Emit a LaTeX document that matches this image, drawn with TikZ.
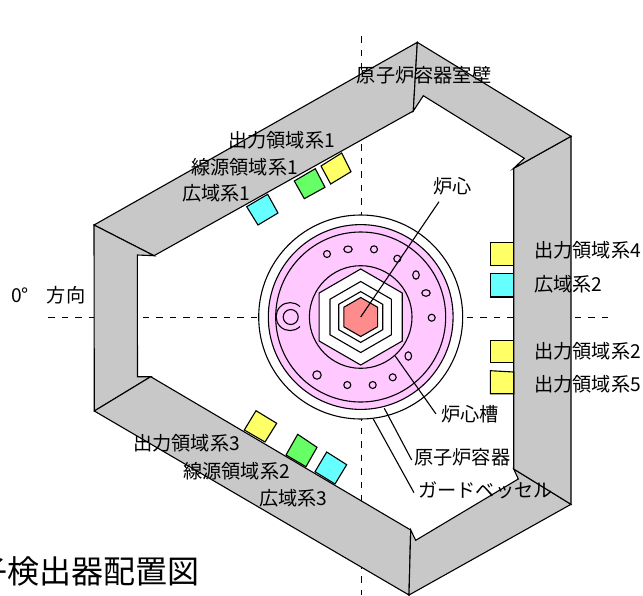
\documentclass[tikz,border=0pt]{standalone}
\usepackage{fontspec}
\setmainfont{Noto Sans CJK JP}
\tikzset{
  wall/.style={draw=black,fill=wallgray,line width=1.1pt,line join=miter},
  det/.style={draw=black,line width=1.1pt},
  ln/.style={draw=black,line width=1.1pt},
  cl/.style={draw=black,line width=0.9pt,dash pattern=on 6.5pt off 7pt},
  lab/.style={anchor=west,inner sep=0pt,font=\fontsize{19.2}{21}\selectfont,text=black},
  hole/.style={draw=black,line width=1.1pt,fill=vpink},
}
\definecolor{wallgray}{HTML}{C8C8C8}
\definecolor{vpink}{HTML}{FFC8FF}
\definecolor{vred}{HTML}{FF8C8C}
\definecolor{dyel}{HTML}{FFFF66}
\definecolor{dcy}{HTML}{66FFFF}
\definecolor{dgr}{HTML}{66FF66}
\begin{document}
\begin{tikzpicture}[x=1pt,y=-1pt]
\useasboundingbox (0,0) rectangle (643,595);
\coordinate (cc) at (360.7,317);
% centre lines
\coordinate (vt) at (361,36);
\coordinate (vb) at (361,595);
\coordinate (hl) at (48,317);
\coordinate (hr) at (609,317);
\draw[cl] (vt) -- (vb);
\draw[cl] (hl) -- (hr);
% walls
\coordinate (ot) at (417.3,42.3);
\coordinate (ou) at (571,136.3);
\coordinate (or) at (571,504.3);
\coordinate (ob) at (409,595);
\coordinate (ol) at (94.3,411);
\coordinate (oa) at (94,225);
\draw[wall] (oa) -- (ot) -- (413.3,111) -- (154,255.7) -- cycle;
\draw[wall] (oa) -- (154,255.7) -- (137.3,255) -- (137.5,376.7) -- (150.7,376.7) -- (ol) -- cycle;
\draw[wall] (ol) -- (150.7,376.7) -- (410.7,530) -- (ob) -- cycle;
\draw[wall] (ob) -- (410.7,530) -- (415.7,540.3) -- (518.3,479) -- (513.7,469) -- (or) -- cycle;
\draw[wall] (or) -- (513.7,469) -- (513.7,168.3) -- (ou) -- cycle;
\draw[wall] (ou) -- (513.7,168.3) -- (524.3,158.3) -- (423.3,95.7) -- (413.3,111) -- (ot) -- cycle;
% detectors
\draw[det,fill=dcy] (246.7,206.7) -- (267.7,194.3) -- (278,213) -- (258,225) -- cycle;
\draw[det,fill=dgr] (294.3,181) -- (315.3,168.7) -- (325,187.3) -- (304.3,198.7) -- cycle;
\draw[det,fill=dyel] (321,166) -- (341.7,153) -- (351,171.7) -- (330.7,184) -- cycle;
\draw[det,fill=dyel] (490.3,242.3) rectangle (513.7,265.7);
\draw[det,fill=dcy] (490.3,273.3) rectangle (513.7,297);
\draw[det,fill=dyel] (490.3,340.7) rectangle (513.7,362.7);
\draw[det,fill=dyel] (490.3,370.7) -- (513.7,372) -- (513.7,393.7) -- (490.3,393.7) -- cycle;
\draw[det,fill=dyel] (256,410.7) -- (276.7,423.3) -- (265,442) -- (244.3,430) -- cycle;
\draw[det,fill=dgr] (297.7,434.3) -- (317,447.3) -- (306,466.7) -- (286,455) -- cycle;
\draw[det,fill=dcy] (326.7,452) -- (346.7,464.7) -- (335,484) -- (315,471.7) -- cycle;
% vessel
\draw[ln,fill=white] (cc) circle (102);
\draw[ln,fill=vpink] (cc) circle (92.4);
\draw[ln] (cc) circle (85);
\draw[ln] (cc) circle (51.3);
\foreach \r/\f in {48/white,35.5/white,25.4/white,19.5/vred}{
  \draw[ln,fill=\f,shift={(cc)}] (90:\r) -- (150:\r) -- (210:\r) -- (270:\r) -- (330:\r) -- (30:\r) -- cycle;
}
% in-vessel holes
\foreach \x/\y/\a/\b in {327/254/3.5/3.5,348/249.3/4.2/3.3,374/249.3/3.5/3.5,397.3/258.7/3.5/3.5,416/275/3.3/4.2,426/293/4.2/3.3,431.7/317.7/3.5/3.5,408.3/356/3.3/4.2,392.7/377.3/3.5/3.5,372.7/385/3.5/3.5,347.3/385/3.5/3.5,317/375/4.2/4.2}{
  \draw[hole] (\x,\y) ellipse ({\a} and {\b});
}
% side device
\draw[ln] (290.7,317) circle (7.5);
\draw[ln] (300,306.7) arc (-45:-315:14);
% leaders
\coordinate (c1) at (439,201.7);
\coordinate (c2a) at (395,355.7);
\coordinate (c2b) at (436,414);
\coordinate (c3a) at (384.3,408.3);
\coordinate (c3b) at (411.7,460);
\coordinate (c4a) at (373.3,419);
\coordinate (c4b) at (414,492.7);
\draw[ln] (cc) -- (c1);
\draw[ln] (c2a) -- (c2b);
\draw[ln] (c3a) -- (c3b);
\draw[ln] (c4a) -- (c4b);
% labels
\node[lab] (l1) at (356.7,75) {原子炉容器室壁};
\node[lab] (l2) at (228,140) {出力領域系1};
\node[lab] (l3) at (191,167) {線源領域系1};
\node[lab] (l4) at (182,193) {広域系1};
\node[lab] (l5) at (433,186) {炉心};
\node[lab] (l6) at (534,250.7) {出力領域系4};
\node[lab] (l7) at (534,284) {広域系2};
\node[lab] (l8) at (534,351) {出力領域系2};
\node[lab] (l9) at (534,384) {出力領域系5};
\node[lab] (l10) at (441,414) {炉心槽};
\node[lab] (l11) at (414,457) {原子炉容器};
\node[lab] (l12) at (418,490) {ガードベッセル};
\node[lab] (l13) at (133,443) {出力領域系3};
\node[lab] (l14) at (183,471) {線源領域系2};
\node[lab] (l15) at (259,498) {広域系3};
\node[lab] (l16) at (11,295) {0°\hspace{18pt}方向};
\node[anchor=east,inner sep=0pt,font=\fontsize{32}{34}\selectfont] (t) at (200,571.5) {子検出器配置図};
\end{tikzpicture}
\end{document}
